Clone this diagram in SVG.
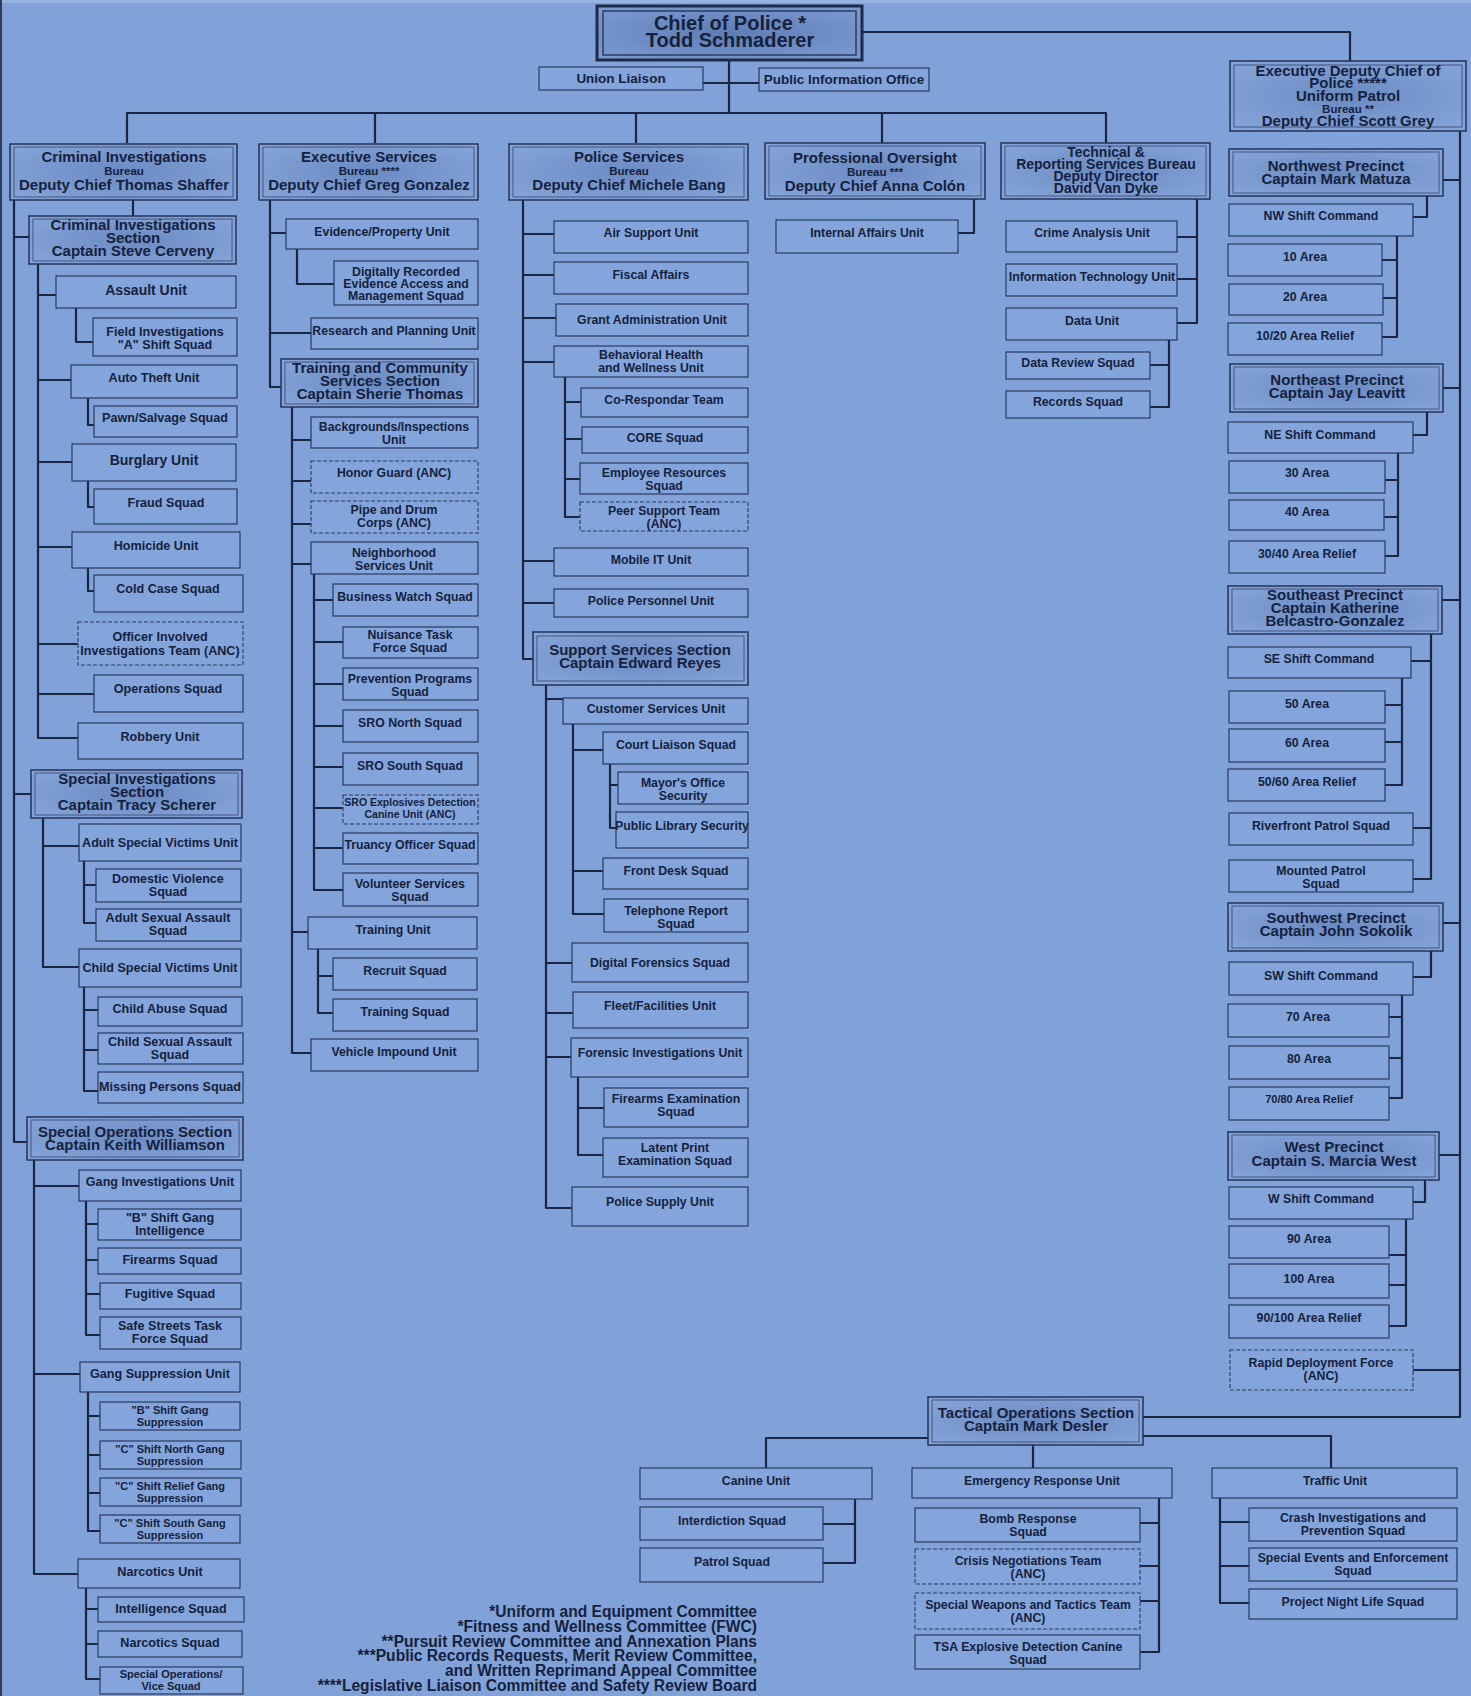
<svg xmlns="http://www.w3.org/2000/svg" width="1471" height="1696" viewBox="0 0 1471 1696">
<defs>
<radialGradient id="hg" cx="50%" cy="50%" r="70%">
<stop offset="0" stop-color="#6a8ac2"/>
<stop offset="1" stop-color="#86a6db"/>
</radialGradient>
<radialGradient id="cg" cx="50%" cy="50%" r="70%">
<stop offset="0" stop-color="#5e7db5"/>
<stop offset="1" stop-color="#7c9cd2"/>
</radialGradient>
<style>
.b{fill:#83a5db;stroke:#2a3a60;stroke-width:1.2}
.d{fill:#83a5db;stroke:#2a3a60;stroke-width:1.1;stroke-dasharray:4 2}
.h{fill:url(#hg);stroke:#243358;stroke-width:1.5}
.hi{fill:none;stroke:#45577f;stroke-width:1}
.c path{fill:none;stroke:#1b2644;stroke-width:2.2;stroke-linejoin:round}
text{font-family:"Liberation Sans",Arial,Helvetica,sans-serif;font-weight:bold;fill:#16213d;text-anchor:middle;font-size:12.3px}
.l{font-size:12.6px}
.x{font-size:14px}
.s{font-size:11px}
.t{font-size:10.5px}
.m{font-size:13.5px}
.H{font-size:15px}
.G{font-size:14px}
.B{font-size:11.5px}
.C{font-size:20px}
.fn{font-size:15.6px;text-anchor:end}
</style>
</defs>
<rect x="0" y="0" width="1471" height="1696" fill="#80a2d8"/>
<rect x="0" y="0" width="1471" height="3" fill="#95b2e0"/>
<rect x="0" y="0" width="2" height="1696" fill="#2e3a5a"/>

<g class="c" id="connectors">
<path d="M862,32 H1350 V61"/>
<path d="M729,60 V113"/>
<path d="M703,83 H759"/>
<path d="M127,143 V113 H1106 V143"/>
<path d="M375,113 V143 M636,113 V143 M882,113 V143"/>
<path d="M14,200 V1142 H27 M14,237 H29 M14,794 H31"/>
<path d="M133,200 V216"/>
<path d="M38,264 V738 H78 M38,295 H56 M38,380 H71 M38,462 H72 M38,547 H72 M38,644 H78 M38,694 H94"/>
<path d="M76,308 V342 H93 M88,398 V425 H94 M88,481 V507 H94 M88,568 V591 H94"/>
<path d="M43,818 V967 H79 M43,846 H79"/>
<path d="M84,861 V923 H96 M84,885 H96"/>
<path d="M84,987 V1091 H98 M84,1010 H98 M84,1050 H98"/>
<path d="M34,1160 V1574 H78 M34,1186 H79 M34,1374 H80"/>
<path d="M86,1201 V1335 H100 M86,1224 H98 M86,1260 H98 M86,1294 H100"/>
<path d="M88,1392 V1531 H100 M88,1416 H100 M88,1455 H100 M88,1493 H100"/>
<path d="M86,1588 V1679 H100 M86,1609 H98 M86,1644 H98"/>
<path d="M270,200 V387 H281 M270,233 H286 M270,333 H311"/>
<path d="M297,249 V284 H334"/>
<path d="M292,407 V1053 H311 M292,440 H311 M292,481 H311 M292,524 H311 M292,564 H311 M292,932 H308"/>
<path d="M314,574 V890 H343 M314,600 H333 M314,642 H343 M314,684 H343 M314,726 H343 M314,767 H343 M314,808 H343 M314,848 H343"/>
<path d="M318,949 V1013 H333 M318,976 H333"/>
<path d="M523,200 V659 H533 M523,234 H554 M523,275 H554 M523,318 H556 M523,362 H554 M523,561 H554 M523,603 H554"/>
<path d="M565,377 V517 H580 M565,402 H581 M565,439 H582 M565,479 H580"/>
<path d="M546,685 V1208 H572 M546,699 H563 M546,963 H572 M546,1013 H573 M546,1057 H571"/>
<path d="M573,724 V914 H604 M573,750 H603 M573,871 H603"/>
<path d="M610,764 V828 H616 M610,785 H618"/>
<path d="M578,1077 V1155 H603 M578,1108 H604"/>
<path d="M974,199 V233 H958"/>
<path d="M1197,199 V323 H1177 M1197,237 H1177 M1197,279 H1177"/>
<path d="M1169,340 V407 H1150 M1169,365 H1150"/>
<path d="M1460,131 V1417 H1143 M1460,180 H1443 M1460,388 H1443 M1460,600 H1442 M1460,923 H1443 M1460,1155 H1439 M1460,1370 H1413"/>
<path d="M1427,196 V217 H1413 M1397,236 V337 H1382 M1397,260 H1382 M1397,298 H1383"/>
<path d="M1427,412 V435 H1413 M1398,453 V556 H1385 M1398,480 H1385 M1398,517 H1384"/>
<path d="M1431,634 V879 H1413 M1431,661 H1411 M1431,828 H1413 M1402,678 V785 H1385 M1402,705 H1385 M1402,742 H1385"/>
<path d="M1431,951 V977 H1413 M1402,995 V1098 H1389 M1402,1017 H1389 M1402,1058 H1389"/>
<path d="M1425,1180 V1202 H1413 M1406,1219 V1326 H1389 M1406,1255 H1389 M1406,1285 H1389"/>
<path d="M1143,1436 H1331 V1468 M1033,1445 V1468 M928,1438 H766 V1468"/>
<path d="M855,1499 V1563 H823 M855,1524 H823"/>
<path d="M1159,1498 V1652 H1140 M1159,1523 H1140 M1159,1566 H1140 M1159,1601 H1140"/>
<path d="M1220,1498 V1603 H1249 M1220,1522 H1249 M1220,1566 H1249"/>
</g>

<g id="chief"><rect x="597" y="6" width="265" height="54" fill="url(#cg)" stroke="#1e2a48" stroke-width="3"/><rect x="603" y="11" width="253" height="44" fill="none" stroke="#2c3b60" stroke-width="1.5"/><text class="C" x="730" y="30">Chief of Police *</text><text class="C" x="730" y="47">Todd Schmaderer</text></g>
<g id="union"><rect class="b" x="539" y="67" width="164" height="23"/><text class="m" x="621" y="83">Union Liaison</text></g>
<g id="pio"><rect class="b" x="759" y="68" width="170" height="23"/><text class="m" x="844" y="84">Public Information Office</text></g>

<g id="cib"><rect class="h" x="10" y="144" width="227" height="56"/><rect class="hi" x="14" y="147" width="219" height="50"/><text class="H" x="124" y="162">Criminal Investigations</text><text class="B" x="124" y="175">Bureau</text><text class="H" x="124" y="190">Deputy Chief Thomas Shaffer</text></g>
<g id="esb"><rect class="h" x="259" y="144" width="219" height="56"/><rect class="hi" x="263" y="147" width="211" height="50"/><text class="H" x="369" y="162">Executive Services</text><text class="B" x="369" y="175">Bureau ****</text><text class="H" x="369" y="190">Deputy Chief Greg Gonzalez</text></g>
<g id="psb"><rect class="h" x="509" y="144" width="239" height="56"/><rect class="hi" x="513" y="147" width="231" height="50"/><text class="H" x="629" y="162">Police Services</text><text class="B" x="629" y="175">Bureau</text><text class="H" x="629" y="190">Deputy Chief Michele Bang</text></g>
<g id="pob"><rect class="h" x="765" y="143" width="220" height="56"/><rect class="hi" x="769" y="146" width="212" height="50"/><text class="H" x="875" y="163">Professional Oversight</text><text class="B" x="875" y="176">Bureau ***</text><text class="H" x="875" y="191">Deputy Chief Anna Colón</text></g>
<g id="trsb"><rect class="h" x="1001" y="143" width="209" height="56"/><rect class="hi" x="1005" y="146" width="201" height="50"/><text class="G" x="1106" y="157">Technical &amp;</text><text class="G" x="1106" y="169">Reporting Services Bureau</text><text class="G" x="1106" y="181">Deputy Director</text><text class="G" x="1106" y="193">David Van Dyke</text></g>
<g id="edc"><rect class="h" x="1230" y="61" width="236" height="70"/><rect class="hi" x="1234" y="65" width="228" height="62"/><text class="H" x="1348" y="76">Executive Deputy Chief of</text><text class="H" x="1348" y="88">Police *****</text><text class="H" x="1348" y="101">Uniform Patrol</text><text class="B" x="1348" y="113">Bureau **</text><text class="H" x="1348" y="126">Deputy Chief Scott Grey</text></g>

<g id="cis"><rect class="h" x="29" y="216" width="207" height="48"/><rect class="hi" x="33" y="219" width="199" height="42"/><text class="H" x="133" y="230">Criminal Investigations</text><text class="H" x="133" y="243">Section</text><text class="H" x="133" y="256">Captain Steve Cerveny</text></g>
<g id="assault"><rect class="b" x="56" y="276" width="180" height="32"/><text class="x" x="146" y="295">Assault Unit</text></g>
<g id="fieldinv"><rect class="b" x="93" y="318" width="144" height="38"/><text class="l" x="165" y="336">Field Investigations</text><text class="l" x="165" y="349">"A" Shift Squad</text></g>
<g id="autotheft"><rect class="b" x="71" y="365" width="166" height="33"/><text class="l" x="154" y="382">Auto Theft Unit</text></g>
<g id="pawn"><rect class="b" x="94" y="406" width="143" height="31"/><text class="l" x="165" y="422">Pawn/Salvage Squad</text></g>
<g id="burglary"><rect class="b" x="72" y="444" width="164" height="37"/><text class="x" x="154" y="465">Burglary Unit</text></g>
<g id="fraud"><rect class="b" x="94" y="489" width="143" height="35"/><text class="l" x="166" y="507">Fraud Squad</text></g>
<g id="homicide"><rect class="b" x="72" y="532" width="168" height="36"/><text class="l" x="156" y="550">Homicide Unit</text></g>
<g id="coldcase"><rect class="b" x="94" y="575" width="149" height="37"/><text class="l" x="168" y="593">Cold Case Squad</text></g>
<g id="oiit"><rect class="d" x="78" y="622" width="165" height="43"/><text class="l" x="160" y="641">Officer Involved</text><text class="l" x="160" y="655">Investigations Team (ANC)</text></g>
<g id="operations"><rect class="b" x="94" y="675" width="149" height="37"/><text class="l" x="168" y="693">Operations Squad</text></g>
<g id="robbery"><rect class="b" x="78" y="723" width="165" height="36"/><text class="l" x="160" y="741">Robbery Unit</text></g>
<g id="sis"><rect class="h" x="31" y="770" width="211" height="48"/><rect class="hi" x="35" y="773" width="203" height="42"/><text class="H" x="137" y="784">Special Investigations</text><text class="H" x="137" y="797">Section</text><text class="H" x="137" y="810">Captain Tracy Scherer</text></g>
<g id="asvu"><rect class="b" x="79" y="824" width="162" height="37"/><text class="l" x="160" y="847">Adult Special Victims Unit</text></g>
<g id="dv"><rect class="b" x="96" y="869" width="145" height="33"/><text class="l" x="168" y="883">Domestic Violence</text><text class="l" x="168" y="896">Squad</text></g>
<g id="asa"><rect class="b" x="96" y="909" width="145" height="32"/><text class="l" x="168" y="922">Adult Sexual Assault</text><text class="l" x="168" y="935">Squad</text></g>
<g id="csvu"><rect class="b" x="79" y="949" width="162" height="38"/><text class="l" x="160" y="972">Child Special Victims Unit</text></g>
<g id="childabuse"><rect class="b" x="98" y="997" width="144" height="29"/><text class="l" x="170" y="1013">Child Abuse Squad</text></g>
<g id="csa"><rect class="b" x="98" y="1033" width="145" height="31"/><text class="l" x="170" y="1046">Child Sexual Assault</text><text class="l" x="170" y="1059">Squad</text></g>
<g id="missing"><rect class="b" x="98" y="1072" width="145" height="31"/><text class="l" x="170" y="1091">Missing Persons Squad</text></g>
<g id="sos"><rect class="h" x="27" y="1117" width="216" height="43"/><rect class="hi" x="31" y="1120" width="208" height="37"/><text class="H" x="135" y="1137">Special Operations Section</text><text class="H" x="135" y="1150">Captain Keith Williamson</text></g>
<g id="giu"><rect class="b" x="79" y="1170" width="162" height="31"/><text class="l" x="160" y="1186">Gang Investigations Unit</text></g>
<g id="bintel"><rect class="b" x="98" y="1209" width="143" height="31"/><text class="l" x="170" y="1222">"B" Shift Gang</text><text class="l" x="170" y="1235">Intelligence</text></g>
<g id="firearms"><rect class="b" x="98" y="1248" width="143" height="26"/><text class="l" x="170" y="1264">Firearms Squad</text></g>
<g id="fugitive"><rect class="b" x="100" y="1283" width="141" height="26"/><text class="l" x="170" y="1298">Fugitive Squad</text></g>
<g id="safestreets"><rect class="b" x="100" y="1317" width="141" height="32"/><text class="l" x="170" y="1330">Safe Streets Task</text><text class="l" x="170" y="1343">Force Squad</text></g>
<g id="gsu"><rect class="b" x="80" y="1362" width="160" height="30"/><text class="l" x="160" y="1378">Gang Suppression Unit</text></g>
<g id="bsup"><rect class="b" x="100" y="1402" width="140" height="28"/><text class="s" x="170" y="1414">"B" Shift Gang</text><text class="s" x="170" y="1426">Suppression</text></g>
<g id="cnorth"><rect class="b" x="100" y="1441" width="141" height="28"/><text class="s" x="170" y="1453">"C" Shift North Gang</text><text class="s" x="170" y="1465">Suppression</text></g>
<g id="crelief"><rect class="b" x="100" y="1478" width="141" height="28"/><text class="s" x="170" y="1490">"C" Shift Relief Gang</text><text class="s" x="170" y="1502">Suppression</text></g>
<g id="csouth"><rect class="b" x="100" y="1515" width="140" height="28"/><text class="s" x="170" y="1527">"C" Shift South Gang</text><text class="s" x="170" y="1539">Suppression</text></g>
<g id="narcunit"><rect class="b" x="78" y="1559" width="162" height="29"/><text class="l" x="160" y="1576">Narcotics Unit</text></g>
<g id="intel"><rect class="b" x="98" y="1597" width="146" height="25"/><text class="l" x="171" y="1613">Intelligence Squad</text></g>
<g id="narcsquad"><rect class="b" x="98" y="1631" width="144" height="26"/><text class="l" x="170" y="1647">Narcotics Squad</text></g>
<g id="vice"><rect class="b" x="100" y="1667" width="143" height="27"/><text class="s" x="171" y="1678">Special Operations/</text><text class="s" x="171" y="1690">Vice Squad</text></g>

<g id="evidence"><rect class="b" x="286" y="219" width="192" height="30"/><text x="382" y="236">Evidence/Property Unit</text></g>
<g id="dream"><rect class="b" x="334" y="261" width="144" height="44"/><text x="406" y="276">Digitally Recorded</text><text x="406" y="288">Evidence Access and</text><text x="406" y="300">Management Squad</text></g>
<g id="research"><rect class="b" x="311" y="318" width="167" height="31"/><text x="394" y="335">Research and Planning Unit</text></g>
<g id="tcss"><rect class="h" x="281" y="359" width="197" height="48"/><rect class="hi" x="285" y="362" width="189" height="42"/><text class="H" x="380" y="373">Training and Community</text><text class="H" x="380" y="386">Services Section</text><text class="H" x="380" y="399">Captain Sherie Thomas</text></g>
<g id="backgrounds"><rect class="b" x="311" y="417" width="167" height="31"/><text x="394" y="431">Backgrounds/Inspections</text><text x="394" y="444">Unit</text></g>
<g id="honor"><rect class="d" x="311" y="461" width="167" height="32"/><text x="394" y="477">Honor Guard (ANC)</text></g>
<g id="pipe"><rect class="d" x="311" y="501" width="167" height="32"/><text x="394" y="514">Pipe and Drum</text><text x="394" y="527">Corps (ANC)</text></g>
<g id="nsu"><rect class="b" x="311" y="542" width="167" height="32"/><text x="394" y="557">Neighborhood</text><text x="394" y="570">Services Unit</text></g>
<g id="bizwatch"><rect class="b" x="333" y="584" width="145" height="32"/><text x="405" y="601">Business Watch Squad</text></g>
<g id="nuisance"><rect class="b" x="343" y="627" width="135" height="31"/><text x="410" y="639">Nuisance Task</text><text x="410" y="652">Force Squad</text></g>
<g id="prevention"><rect class="b" x="343" y="668" width="135" height="32"/><text x="410" y="683">Prevention Programs</text><text x="410" y="696">Squad</text></g>
<g id="sronorth"><rect class="b" x="343" y="710" width="135" height="32"/><text x="410" y="727">SRO North Squad</text></g>
<g id="srosouth"><rect class="b" x="343" y="753" width="135" height="32"/><text x="410" y="770">SRO South Squad</text></g>
<g id="srocanine"><rect class="d" x="343" y="795" width="135" height="29"/><text class="t" x="410" y="806">SRO Explosives Detection</text><text class="t" x="410" y="818">Canine Unit (ANC)</text></g>
<g id="truancy"><rect class="b" x="343" y="833" width="135" height="31"/><text x="410" y="849">Truancy Officer Squad</text></g>
<g id="volunteer"><rect class="b" x="343" y="873" width="135" height="33"/><text x="410" y="888">Volunteer Services</text><text x="410" y="901">Squad</text></g>
<g id="trainingunit"><rect class="b" x="308" y="917" width="169" height="32"/><text x="393" y="934">Training Unit</text></g>
<g id="recruit"><rect class="b" x="333" y="958" width="144" height="32"/><text x="405" y="975">Recruit Squad</text></g>
<g id="trainingsquad"><rect class="b" x="333" y="999" width="144" height="32"/><text x="405" y="1016">Training Squad</text></g>
<g id="impound"><rect class="b" x="311" y="1039" width="167" height="32"/><text x="394" y="1056">Vehicle Impound Unit</text></g>

<g id="air"><rect class="b" x="554" y="221" width="194" height="32"/><text x="651" y="237">Air Support Unit</text></g>
<g id="fiscal"><rect class="b" x="554" y="262" width="194" height="32"/><text x="651" y="279">Fiscal Affairs</text></g>
<g id="grant"><rect class="b" x="556" y="304" width="192" height="32"/><text x="652" y="324">Grant Administration Unit</text></g>
<g id="bhwu"><rect class="b" x="554" y="346" width="194" height="31"/><text x="651" y="359">Behavioral Health</text><text x="651" y="372">and Wellness Unit</text></g>
<g id="corespond"><rect class="b" x="581" y="388" width="167" height="29"/><text x="664" y="404">Co-Respondar Team</text></g>
<g id="core"><rect class="b" x="582" y="427" width="166" height="26"/><text x="665" y="442">CORE Squad</text></g>
<g id="employee"><rect class="b" x="580" y="463" width="168" height="31"/><text x="664" y="477">Employee Resources</text><text x="664" y="490">Squad</text></g>
<g id="peer"><rect class="d" x="580" y="502" width="168" height="29"/><text x="664" y="515">Peer Support Team</text><text x="664" y="528">(ANC)</text></g>
<g id="mobileit"><rect class="b" x="554" y="548" width="194" height="28"/><text x="651" y="564">Mobile IT Unit</text></g>
<g id="personnel"><rect class="b" x="554" y="589" width="194" height="28"/><text x="651" y="605">Police Personnel Unit</text></g>
<g id="sss"><rect class="h" x="533" y="632" width="215" height="53"/><rect class="hi" x="537" y="636" width="207" height="45"/><text class="H" x="640" y="655">Support Services Section</text><text class="H" x="640" y="668">Captain Edward Reyes</text></g>
<g id="customer"><rect class="b" x="563" y="698" width="185" height="26"/><text x="656" y="713">Customer Services Unit</text></g>
<g id="court"><rect class="b" x="603" y="732" width="145" height="32"/><text x="676" y="749">Court Liaison Squad</text></g>
<g id="mayor"><rect class="b" x="618" y="772" width="130" height="32"/><text x="683" y="787">Mayor's Office</text><text x="683" y="800">Security</text></g>
<g id="library"><rect class="b" x="616" y="812" width="132" height="36"/><text x="682" y="830">Public Library Security</text></g>
<g id="frontdesk"><rect class="b" x="603" y="858" width="145" height="31"/><text x="676" y="875">Front Desk Squad</text></g>
<g id="telephone"><rect class="b" x="604" y="899" width="144" height="33"/><text x="676" y="915">Telephone Report</text><text x="676" y="928">Squad</text></g>
<g id="digital"><rect class="b" x="572" y="943" width="176" height="39"/><text x="660" y="967">Digital Forensics Squad</text></g>
<g id="fleet"><rect class="b" x="573" y="992" width="175" height="36"/><text x="660" y="1010">Fleet/Facilities Unit</text></g>
<g id="forensic"><rect class="b" x="571" y="1038" width="177" height="39"/><text x="660" y="1057">Forensic Investigations Unit</text></g>
<g id="firearmsexam"><rect class="b" x="604" y="1088" width="144" height="39"/><text x="676" y="1103">Firearms Examination</text><text x="676" y="1116">Squad</text></g>
<g id="latent"><rect class="b" x="603" y="1138" width="145" height="39"/><text x="675" y="1152">Latent Print</text><text x="675" y="1165">Examination Squad</text></g>
<g id="supply"><rect class="b" x="572" y="1187" width="176" height="39"/><text x="660" y="1206">Police Supply Unit</text></g>

<g id="internal"><rect class="b" x="776" y="220" width="182" height="33"/><text x="867" y="237">Internal Affairs Unit</text></g>

<g id="crime"><rect class="b" x="1006" y="221" width="171" height="31"/><text x="1092" y="237">Crime Analysis Unit</text></g>
<g id="itu"><rect class="b" x="1006" y="264" width="171" height="32"/><text x="1092" y="281">Information Technology Unit</text></g>
<g id="data"><rect class="b" x="1006" y="308" width="171" height="32"/><text x="1092" y="325">Data Unit</text></g>
<g id="datareview"><rect class="b" x="1006" y="352" width="144" height="27"/><text x="1078" y="367">Data Review Squad</text></g>
<g id="records"><rect class="b" x="1006" y="391" width="144" height="27"/><text x="1078" y="406">Records Squad</text></g>

<g id="nw"><rect class="h" x="1229" y="149" width="214" height="47"/><rect class="hi" x="1233" y="152" width="206" height="41"/><text class="H" x="1336" y="171">Northwest Precinct</text><text class="H" x="1336" y="184">Captain Mark Matuza</text></g>
<g id="nwshift"><rect class="b" x="1229" y="204" width="184" height="32"/><text x="1321" y="220">NW Shift Command</text></g>
<g id="a10"><rect class="b" x="1228" y="244" width="154" height="32"/><text x="1305" y="261">10 Area</text></g>
<g id="a20"><rect class="b" x="1229" y="284" width="154" height="31"/><text x="1305" y="301">20 Area</text></g>
<g id="a1020"><rect class="b" x="1228" y="323" width="154" height="32"/><text x="1305" y="340">10/20 Area Relief</text></g>
<g id="ne"><rect class="h" x="1230" y="364" width="213" height="48"/><rect class="hi" x="1234" y="367" width="205" height="42"/><text class="H" x="1337" y="385">Northeast Precinct</text><text class="H" x="1337" y="398">Captain Jay Leavitt</text></g>
<g id="neshift"><rect class="b" x="1228" y="422" width="185" height="31"/><text x="1320" y="439">NE Shift Command</text></g>
<g id="a30"><rect class="b" x="1229" y="461" width="156" height="32"/><text x="1307" y="477">30 Area</text></g>
<g id="a40"><rect class="b" x="1229" y="500" width="155" height="30"/><text x="1307" y="516">40 Area</text></g>
<g id="a3040"><rect class="b" x="1229" y="541" width="156" height="32"/><text x="1307" y="558">30/40 Area Relief</text></g>
<g id="se"><rect class="h" x="1228" y="586" width="214" height="48"/><rect class="hi" x="1232" y="589" width="206" height="42"/><text class="H" x="1335" y="600">Southeast Precinct</text><text class="H" x="1335" y="613">Captain Katherine</text><text class="H" x="1335" y="626">Belcastro-Gonzalez</text></g>
<g id="seshift"><rect class="b" x="1228" y="647" width="183" height="31"/><text x="1319" y="663">SE Shift Command</text></g>
<g id="a50"><rect class="b" x="1229" y="691" width="156" height="32"/><text x="1307" y="708">50 Area</text></g>
<g id="a60"><rect class="b" x="1229" y="729" width="156" height="33"/><text x="1307" y="747">60 Area</text></g>
<g id="a5060"><rect class="b" x="1228" y="769" width="157" height="32"/><text x="1307" y="786">50/60 Area Relief</text></g>
<g id="riverfront"><rect class="b" x="1229" y="813" width="184" height="32"/><text x="1321" y="830">Riverfront Patrol Squad</text></g>
<g id="mounted"><rect class="b" x="1229" y="860" width="184" height="32"/><text x="1321" y="875">Mounted Patrol</text><text x="1321" y="888">Squad</text></g>
<g id="sw"><rect class="h" x="1228" y="903" width="215" height="48"/><rect class="hi" x="1232" y="906" width="207" height="42"/><text class="H" x="1336" y="923">Southwest Precinct</text><text class="H" x="1336" y="936">Captain John Sokolik</text></g>
<g id="swshift"><rect class="b" x="1229" y="962" width="184" height="33"/><text x="1321" y="980">SW Shift Command</text></g>
<g id="a70"><rect class="b" x="1228" y="1004" width="161" height="33"/><text x="1308" y="1021">70 Area</text></g>
<g id="a80"><rect class="b" x="1229" y="1046" width="160" height="33"/><text x="1309" y="1063">80 Area</text></g>
<g id="a7080"><rect class="b" x="1229" y="1087" width="160" height="33"/><text class="s" x="1309" y="1103">70/80 Area Relief</text></g>
<g id="w"><rect class="h" x="1228" y="1132" width="211" height="48"/><rect class="hi" x="1232" y="1135" width="203" height="42"/><text class="H" x="1334" y="1152">West Precinct</text><text class="H" x="1334" y="1166">Captain S. Marcia West</text></g>
<g id="wshift"><rect class="b" x="1229" y="1187" width="184" height="32"/><text x="1321" y="1203">W Shift Command</text></g>
<g id="a90"><rect class="b" x="1229" y="1226" width="160" height="32"/><text x="1309" y="1243">90 Area</text></g>
<g id="a100"><rect class="b" x="1229" y="1264" width="160" height="34"/><text x="1309" y="1283">100 Area</text></g>
<g id="a90100"><rect class="b" x="1229" y="1305" width="160" height="33"/><text x="1309" y="1322">90/100 Area Relief</text></g>
<g id="rdf"><rect class="d" x="1230" y="1350" width="183" height="40"/><text x="1321" y="1367">Rapid Deployment Force</text><text x="1321" y="1380">(ANC)</text></g>

<g id="tactical"><rect class="h" x="928" y="1397" width="215" height="48"/><rect class="hi" x="932" y="1400" width="207" height="42"/><text class="H" x="1036" y="1418">Tactical Operations Section</text><text class="H" x="1036" y="1431">Captain Mark Desler</text></g>
<g id="canine"><rect class="b" x="640" y="1468" width="232" height="31"/><text x="756" y="1485">Canine Unit</text></g>
<g id="interdiction"><rect class="b" x="640" y="1507" width="183" height="33"/><text x="732" y="1525">Interdiction Squad</text></g>
<g id="patrol"><rect class="b" x="640" y="1548" width="183" height="34"/><text x="732" y="1566">Patrol Squad</text></g>
<g id="eru"><rect class="b" x="912" y="1468" width="260" height="30"/><text x="1042" y="1485">Emergency Response Unit</text></g>
<g id="bomb"><rect class="b" x="915" y="1508" width="225" height="34"/><text x="1028" y="1523">Bomb Response</text><text x="1028" y="1536">Squad</text></g>
<g id="crisis"><rect class="d" x="915" y="1549" width="225" height="35"/><text x="1028" y="1565">Crisis Negotiations Team</text><text x="1028" y="1578">(ANC)</text></g>
<g id="swat"><rect class="d" x="915" y="1593" width="225" height="36"/><text x="1028" y="1609">Special Weapons and Tactics Team</text><text x="1028" y="1622">(ANC)</text></g>
<g id="tsa"><rect class="b" x="915" y="1635" width="225" height="34"/><text x="1028" y="1651">TSA Explosive Detection Canine</text><text x="1028" y="1664">Squad</text></g>
<g id="traffic"><rect class="b" x="1212" y="1468" width="245" height="30"/><text x="1335" y="1485">Traffic Unit</text></g>
<g id="crash"><rect class="b" x="1249" y="1508" width="208" height="33"/><text x="1353" y="1522">Crash Investigations and</text><text x="1353" y="1535">Prevention Squad</text></g>
<g id="specialevents"><rect class="b" x="1249" y="1548" width="208" height="33"/><text x="1353" y="1562">Special Events and Enforcement</text><text x="1353" y="1575">Squad</text></g>
<g id="nightlife"><rect class="b" x="1249" y="1589" width="208" height="30"/><text x="1353" y="1606">Project Night Life Squad</text></g>

<g id="footnotes">
<text class="fn" x="757" y="1617">*Uniform and Equipment Committee</text>
<text class="fn" x="757" y="1632">*Fitness and Wellness Committee (FWC)</text>
<text class="fn" x="757" y="1647">**Pursuit Review Committee and Annexation Plans</text>
<text class="fn" x="757" y="1661">***Public Records Requests, Merit Review Committee,</text>
<text class="fn" x="757" y="1676">and Written Reprimand Appeal Committee</text>
<text class="fn" x="757" y="1691">****Legislative Liaison Committee and Safety Review Board</text>
</g>
</svg>
